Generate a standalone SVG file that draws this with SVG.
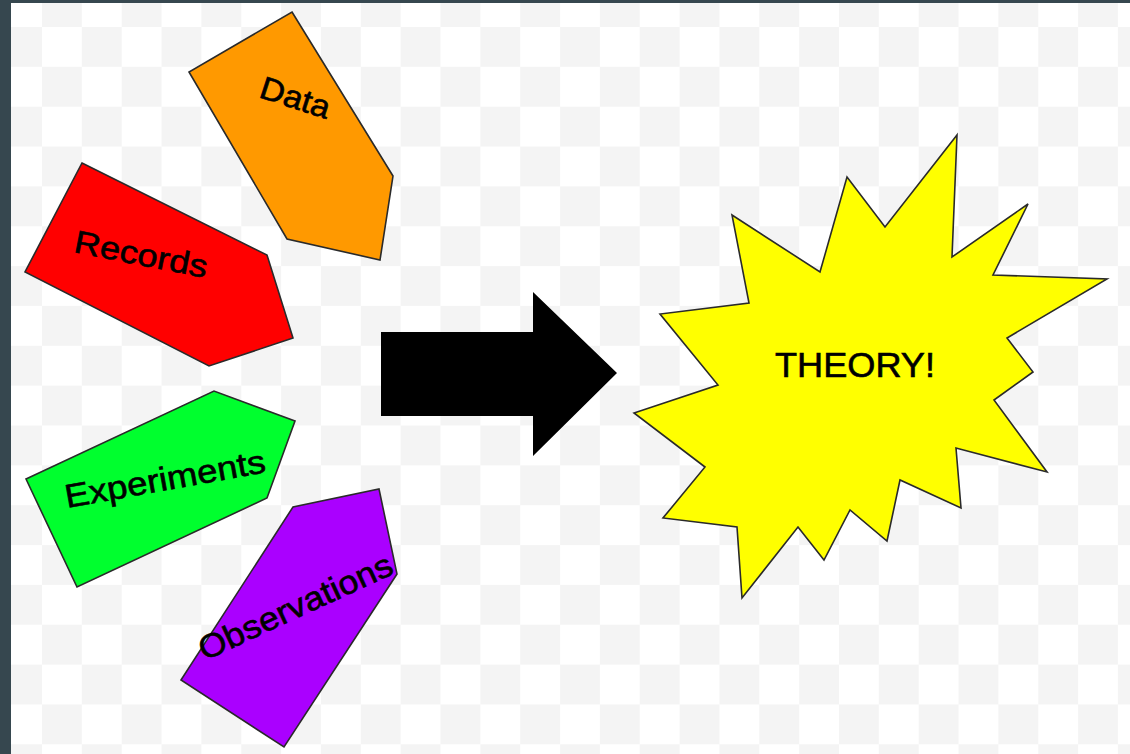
<svg xmlns="http://www.w3.org/2000/svg" width="1130" height="754" viewBox="0 0 1130 754">
<defs>
<pattern id="checker" x="42" y="27" width="79.7" height="79.7" patternUnits="userSpaceOnUse">
<rect x="0" y="0" width="79.7" height="79.7" fill="#ffffff"/>
<rect x="39.85" y="0" width="39.85" height="39.85" fill="#f4f4f4"/>
<rect x="0" y="39.85" width="39.85" height="39.85" fill="#f4f4f4"/>
</pattern>
</defs>
<style>
.shape{stroke:#2a2a2a;stroke-width:1.6;stroke-linejoin:miter}
.lbl{font-family:"Liberation Sans",Arial,sans-serif;fill:#000;stroke:#000;stroke-width:0.6;text-anchor:middle}
</style>
<rect x="0" y="0" width="1130" height="754" fill="#36474f"/>
<rect x="11" y="3" width="1119" height="751" fill="url(#checker)"/>

<g id="data">
<polygon class="shape" fill="#ff9900" points="292,12 393,176 380,260 287,239 189,72"/>
<text class="lbl" font-size="32" textLength="72" lengthAdjust="spacingAndGlyphs" transform="translate(292,108) rotate(18)">Data</text>
</g>

<g id="records">
<polygon class="shape" fill="#ff0000" points="82,163 267,255 293,338 209,366 25,272"/>
<text class="lbl" font-size="32" textLength="135" lengthAdjust="spacingAndGlyphs" transform="translate(139,265) rotate(11)">Records</text>
</g>

<g id="experiments">
<polygon class="shape" fill="#00ff2e" points="26,479 214,391 295,421 267,498 77,587"/>
<text class="lbl" font-size="33" textLength="203" lengthAdjust="spacingAndGlyphs" transform="translate(167,490) rotate(-10.2)">Experiments</text>
</g>

<g id="observations">
<polygon class="shape" fill="#aa00ff" points="181,680 293,507 379,489 397,574 284,747"/>
<text class="lbl" font-size="33" textLength="210" lengthAdjust="spacingAndGlyphs" transform="translate(300,617) rotate(-24.8)">Observations</text>
</g>

<g id="connectors">
<polygon fill="#000000" points="381,332 533,332 533,292 617,373 533,456 533,416 381,416"/>
</g>

<g id="theory">
<polygon class="shape" fill="#ffff00" points="957,135 952,257 1028,204 993,275 1107,279 1007,338 1033,372 994,400 1047,472 956,448 961,508 900,480 887,541 850,510 824,560 798,527 742,598 737,527 663,518 705,467 634,413 718,385 660,314 749,303 732,215 820,272 847,177 885,227"/>
<text class="lbl" font-size="35" textLength="160" lengthAdjust="spacingAndGlyphs" x="855" y="377">THEORY!</text>
</g>
</svg>
